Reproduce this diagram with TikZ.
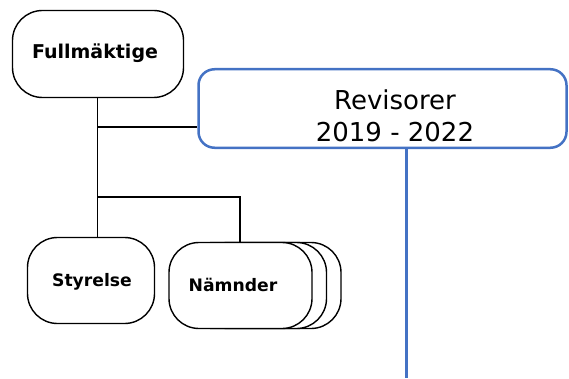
\documentclass[tikz,border=0pt]{standalone}
\usepackage{fontspec}
\setmainfont{DejaVu Sans}
\definecolor{revblue}{HTML}{4472C4}
\begin{document}
\begin{tikzpicture}[x=1pt,y=1pt,
  orgbox/.style={draw=black, line width=1.4pt, fill=white, rounded corners=30pt, inner sep=0pt},
  revbox/.style={draw=revblue, line width=2.5pt, fill=white, rounded corners=16pt, inner sep=0pt},
  boldlabel/.style={font=\fontsize{17.2}{21}\selectfont\bfseries, inner sep=0pt},
  revlabel/.style={font=\fontsize{26}{31.7}\selectfont, align=center, inner sep=0pt},
  conn/.style={draw=black, line width=1.4pt},
  revconn/.style={draw=revblue, line width=3pt}]
\useasboundingbox (0,0) rectangle (569,378);
% Fullmaktige
\node[orgbox, minimum width=171pt, minimum height=87pt] (full) at (98,324) {};
\node[boldlabel, font=\fontsize{19}{23}\selectfont\bfseries] (fulltext) at (95,325) {Fullmäktige};
% Revisorer
\node[revbox, minimum width=368pt, minimum height=78.5pt] (rev) at (382.5,269.5) {};
\node[revlabel] (revtext) at (395,262) {Revisorer\\2019 - 2022};
% Styrelse
\node[orgbox, minimum width=127pt, minimum height=86pt] (sty) at (91,97.5) {};
\node[boldlabel] (stytext) at (92,96) {Styrelse};
% Namnder stack
\node[orgbox, minimum width=143pt, minimum height=86pt] (nam3) at (269.5,92.5) {};
\node[orgbox, minimum width=143pt, minimum height=86pt] (nam2) at (255,92.5) {};
\node[orgbox, minimum width=143pt, minimum height=86pt] (nam) at (240.5,92.5) {};
\node[boldlabel] (namtext) at (233,93) {Nämnder};
% connectors
\coordinate (j1) at (97.5,251);
\coordinate (j2) at (97.5,181);
\coordinate (j3) at (240,181);
\draw[conn] (full.south -| j1) -- (j1 |- sty.north);
\draw[conn] (j1) -- (j1 -| rev.west);
\draw[conn] (j2) -- (j3) -- (j3 |- nam.north);
\coordinate (revend) at (406,0);
\draw[revconn] (revend |- rev.south) -- (revend);
\end{tikzpicture}
\end{document}
